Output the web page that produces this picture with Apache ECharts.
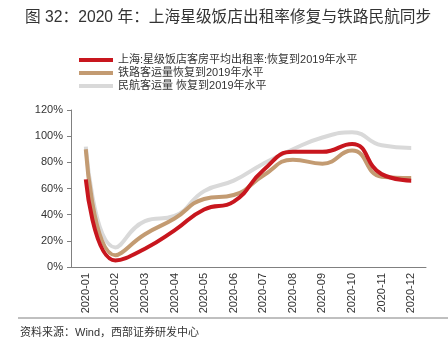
<!DOCTYPE html>
<html><head><meta charset="utf-8">
<script src="https://cdn.jsdelivr.net/npm/echarts@6/dist/echarts.min.js"></script>
<style>html,body{margin:0;padding:0;background:#fff}#c{width:448px;height:350px}</style>
</head><body><div id="c"></div>
<script>
var categories = ['2020-01','2020-02','2020-03','2020-04','2020-05','2020-06','2020-07','2020-08','2020-09','2020-10','2020-11','2020-12'];
var hotelRate = [67,5,14,28,44,50,74,88,88,94,71,66];
var railway = [90,9,25,37,52,55,70,82,79,89,69,68];
var aviation = [92,15,35,39,58,66,79,90,99,103,93,91];
var yTicks = [0,20,40,60,80,100,120];
var names = ['上海:星级饭店客房平均出租率:恢复到2019年水平','铁路客运量恢复到2019年水平','民航客运量 恢复到2019年水平'];
var colors = ['#C8161E','#C39B72','#D9D9D9'];
var FONT = '"Liberation Sans","Noto Sans CJK SC",sans-serif';

var chart = echarts.init(document.getElementById('c'));
chart.setOption({
  animation:false,
  title:{text:'图 32：2020 年：上海星级饭店出租率修复与铁路民航同步',left:20,top:5,
    textStyle:{fontFamily:FONT,fontSize:15.7,fontWeight:'normal',color:'#333'}},
  legend:{orient:'vertical',left:74,top:49,itemWidth:34,itemHeight:4,itemGap:1,icon:'rect',
    data:names,
    textStyle:{fontFamily:FONT,fontSize:11,color:'#333',lineHeight:12}},
  grid:{left:71,right:22,top:110,bottom:83},
  xAxis:{type:'category',data:categories,boundaryGap:true,
    axisLine:{lineStyle:{color:'#808080'}},
    axisTick:{inside:true,length:4,lineStyle:{color:'#808080'}},
    axisLabel:{rotate:90,fontFamily:FONT,fontSize:11,color:'#333',margin:6}},
  yAxis:{type:'value',min:yTicks[0],max:yTicks[yTicks.length-1],interval:20,
    axisLine:{show:true,lineStyle:{color:'#808080'}},
    axisTick:{show:true,length:4,lineStyle:{color:'#808080'}},
    splitLine:{show:false},
    axisLabel:{formatter:'{value}%',fontFamily:FONT,fontSize:11,color:'#333',margin:8}},
  graphic:[
    {type:'line',shape:{x1:18,y1:318,x2:448,y2:318},style:{stroke:'#808080',lineWidth:1}},
    {type:'text',left:20,top:327,style:{text:'资料来源：Wind，西部证券研发中心',font:'11px '+FONT,fill:'#333'}}
  ],
  series:[
    {name:names[2],type:'line',data:aviation,smooth:true,showSymbol:false,z:1,
      lineStyle:{width:4,color:colors[2]},itemStyle:{color:colors[2]}},
    {name:names[1],type:'line',data:railway,smooth:true,showSymbol:false,z:2,
      lineStyle:{width:4,color:colors[1]},itemStyle:{color:colors[1]}},
    {name:names[0],type:'line',data:hotelRate,smooth:true,showSymbol:false,z:3,
      lineStyle:{width:4,color:colors[0]},itemStyle:{color:colors[0]}}
  ]
});
</script></body></html>
